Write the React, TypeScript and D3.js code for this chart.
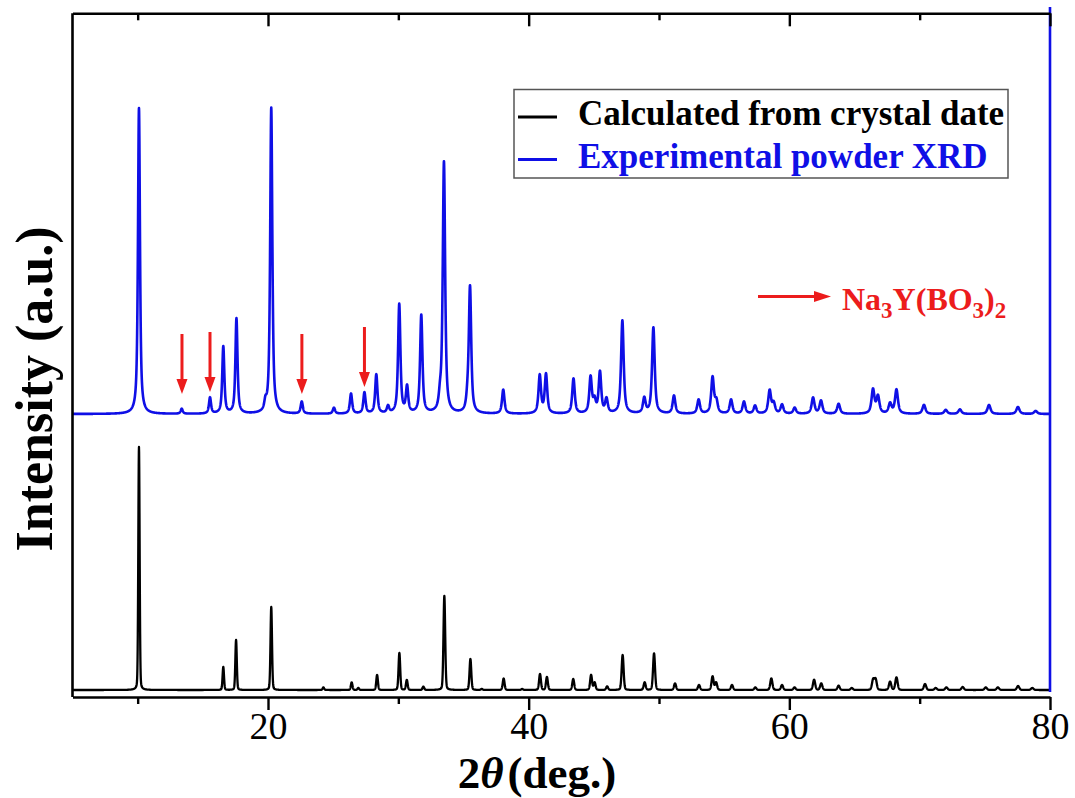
import React, { useEffect, useRef } from "react";
import * as d3 from "d3";

// ---- data ----
const X_DOMAIN: [number, number] = [5, 80];
const MAJOR_TICKS = [20, 40, 60, 80];
const MINOR_TICKS = [10, 30, 50, 70];

// Experimental powder XRD: peak positions (2θ) and heights (a.u.)
const expPos = [10.1, 13.38, 15.55, 16.57, 17.58, 19.8, 20.25, 22.59, 25.06, 26.37, 27.4, 28.31, 29.21, 30.07, 30.67, 31.76, 33.2, 33.5, 35.3, 35.5, 38.05, 40.85, 41.33, 43.44, 44.75, 45.05, 45.47, 45.97, 47.19, 48.87, 49.57, 51.15, 53.04, 54.11, 54.4, 55.53, 56.52, 57.37, 58.49, 58.8, 59.44, 60.41, 61.82, 62.43, 63.78, 66.42, 66.8, 67.73, 68.22, 70.33, 72.0, 73.09, 75.32, 77.54, 78.9];
const expHeight = [306, 5, 16, 67, 95, 8, 306, 12, 6, 20, 21, 39, 7, 109, 26, 98, 12, 251, 10, 126, 24, 38, 39, 35, 36, 12, 41, 14, 93, 15, 86, 18, 14, 36, 12, 14, 12, 8, 23, 10, 9, 6, 16, 13, 10, 24, 17, 10, 24, 9, 4, 4.5, 9, 7, 3];

// Calculated from crystal data: peak positions and heights
const calcPos = [10.1, 16.57, 17.55, 20.25, 24.25, 26.42, 26.93, 28.37, 30.08, 30.65, 31.92, 33.53, 35.53, 36.4, 38.08, 39.5, 40.87, 41.4, 43.42, 44.79, 45.06, 46.02, 47.21, 48.9, 49.62, 51.23, 53.07, 54.11, 54.38, 55.6, 57.39, 58.62, 59.44, 60.4, 61.9, 62.45, 63.78, 64.79, 66.43, 66.62, 67.73, 68.22, 70.41, 71.23, 72.05, 73.3, 75.07, 76.0, 77.55, 78.64];
const calcHeight = [243, 23, 50, 83, 2.6, 7.6, 2, 15, 37, 10, 3.3, 94, 31, 1, 11.5, 1, 16, 13, 11, 15, 7.5, 3.6, 35, 7.6, 36.6, 6.6, 5, 13.6, 7.6, 5, 2.6, 11.6, 5, 2.6, 10.3, 6.6, 4.3, 2, 10.3, 10.6, 8.3, 12.6, 6, 2, 2.6, 3, 2.6, 2.6, 4, 2];

// offsets of the two stacked patterns (a.u.)
const CALC_OFFSET = 7;
const EXP_OFFSET = 283;

// red marker arrows (impurity peaks): positions and tip height above the experimental baseline
const markerPos = [13.4, 15.55, 22.6, 27.4];
const markerTip = [20, 22, 20, 27];

const LEGEND = ["Calculated from crystal date", "Experimental powder XRD"];

const W = 1075;
const H = 798;
const M = { left: 72.5, right: 1050, top: 13.3, bottom: 697 };
const BLUE = "#0f0fe6";
const RED = "#ec1c1c";
const FONT = "'Liberation Serif', 'Times New Roman', serif";

function buildProfile(pos: number[], hts: number[], fw0: number, eta: number, offset: number) {
  const pts: [number, number][] = [];
  const step = 0.01;
  const n = Math.round((X_DOMAIN[1] - X_DOMAIN[0]) / step);
  for (let i = 0; i <= n; i++) {
    const x = X_DOMAIN[0] + i * step;
    let y = 0;
    for (let j = 0; j < pos.length; j++) {
      const w = fw0 + 0.0015 * (pos[j] - 10);
      const d = (x - pos[j]) / (w / 2);
      if (Math.abs(d) > 200) continue;
      const L = 1 / (1 + d * d);
      const G = Math.exp(-Math.LN2 * d * d);
      y += hts[j] * (eta * L + (1 - eta) * G);
    }
    pts.push([x, y + offset]);
  }
  return pts;
}

export default function App() {
  const axRef = useRef<SVGGElement>(null);
  const x = d3.scaleLinear().domain(X_DOMAIN).range([M.left, M.right]);
  const y = d3.scaleLinear().domain([0, M.bottom - M.top]).range([M.bottom, M.top]);

  const line = d3
    .line<[number, number]>()
    .x((d) => x(d[0]))
    .y((d) => y(d[1]));

  const expPts = buildProfile(expPos, expHeight, 0.18, 0.75, EXP_OFFSET);
  const calcPts = buildProfile(calcPos, calcHeight, 0.12, 0.2, CALC_OFFSET);

  useEffect(() => {
    const g = d3.select(axRef.current);
    g.selectAll("*").remove();
    const style = (sel: any) => {
      sel.select(".domain").attr("stroke", "#000").attr("stroke-width", 2.6);
      sel.selectAll(".tick line").attr("stroke", "#000").attr("stroke-width", 2.4);
      sel
        .selectAll(".tick text")
        .attr("font-family", FONT)
        .attr("font-size", 38)
        .attr("fill", "#000");
    };
    // bottom axis
    const bMaj = g.append("g").attr("transform", `translate(0,${M.bottom})`);
    bMaj.call(d3.axisBottom(x).tickValues(MAJOR_TICKS).tickSizeInner(13).tickSizeOuter(0).tickPadding(2).tickFormat(d3.format("d")) as any);
    style(bMaj);
    const bMin = g.append("g").attr("transform", `translate(0,${M.bottom})`);
    bMin.call(d3.axisBottom(x).tickValues(MINOR_TICKS).tickSizeInner(7).tickSizeOuter(0).tickFormat(() => "") as any);
    style(bMin);
    bMin.select(".domain").remove();
    // top axis (ticks inward)
    const tMaj = g.append("g").attr("transform", `translate(0,${M.top})`);
    tMaj.call(d3.axisTop(x).tickValues(MAJOR_TICKS).tickSizeInner(-13).tickSizeOuter(0).tickFormat(() => "") as any);
    style(tMaj);
    const tMin = g.append("g").attr("transform", `translate(0,${M.top})`);
    tMin.call(d3.axisTop(x).tickValues(MINOR_TICKS).tickSizeInner(-7).tickSizeOuter(0).tickFormat(() => "") as any);
    style(tMin);
    tMin.select(".domain").remove();
  }, []);

  return (
    <svg
      width={W}
      height={H}
      style={{ position: "absolute", left: 0, top: 0, display: "block", background: "#fff" }}
    >
      {/* curves */}
      <path d={line(calcPts) || ""} fill="none" stroke="#000" strokeWidth={2.3} strokeLinejoin="round" />
      <path d={line(expPts) || ""} fill="none" stroke={BLUE} strokeWidth={2.6} strokeLinejoin="round" />

      {/* left axis */}
      <line x1={M.left} x2={M.left} y1={M.top} y2={M.bottom} stroke="#000" strokeWidth={2.6} />
      {/* right (blue) axis */}
      <line x1={M.right} x2={M.right} y1={7} y2={y(CALC_OFFSET) + 2} stroke={BLUE} strokeWidth={2.6} />

      <g ref={axRef} />

      {/* red impurity markers */}
      {markerPos.map((p, i) => {
        const tip = y(EXP_OFFSET + markerTip[i]);
        const top = tip - 60;
        const xx = x(p);
        return (
          <g key={i}>
            <line x1={xx} x2={xx} y1={top} y2={tip - 12} stroke={RED} strokeWidth={3} />
            <path d={`M${xx - 5.5},${tip - 15} L${xx + 5.5},${tip - 15} L${xx},${tip} Z`} fill={RED} />
          </g>
        );
      })}

      {/* Na3Y(BO3)2 annotation */}
      <line x1={758} x2={818} y1={296.5} y2={296.5} stroke={RED} strokeWidth={3} />
      <path d="M814,291 L831,296.5 L814,302 Z" fill={RED} />
      <text x={842} y={310} fontFamily={FONT} fontWeight="bold" fontSize={32} fill={RED}>
        Na<tspan fontSize={23} dy={8}>3</tspan>
        <tspan dy={-8}>Y(BO</tspan>
        <tspan fontSize={23} dy={8}>3</tspan>
        <tspan dy={-8}>)</tspan>
        <tspan fontSize={23} dy={8}>2</tspan>
      </text>

      {/* legend */}
      <rect x={514} y={89.5} width={494} height={88.5} fill="#fff" stroke="#555" strokeWidth={1.5} />
      <line x1={518} x2={557} y1={117} y2={117} stroke="#000" strokeWidth={3} />
      <line x1={518} x2={557} y1={159.5} y2={159.5} stroke={BLUE} strokeWidth={3} />
      <text x={578} y={125} fontFamily={FONT} fontWeight="bold" fontSize={35} fill="#000">
        {LEGEND[0]}
      </text>
      <text x={578} y={168} fontFamily={FONT} fontWeight="bold" fontSize={35} fill={BLUE}>
        {LEGEND[1]}
      </text>

      {/* axis titles */}
      <text
        transform={`translate(52, 389) rotate(-90)`}
        textAnchor="middle"
        fontFamily={FONT}
        fontWeight="bold"
        fontSize={52}
        fill="#000"
      >
        Intensity (a.u.)
      </text>
      <text x={537} y={788} textAnchor="middle" fontFamily={FONT} fontWeight="bold" fontSize={45} fill="#000">
        2<tspan fontStyle="italic">θ</tspan>
        <tspan dx={4}>(deg.)</tspan>
      </text>
    </svg>
  );
}
